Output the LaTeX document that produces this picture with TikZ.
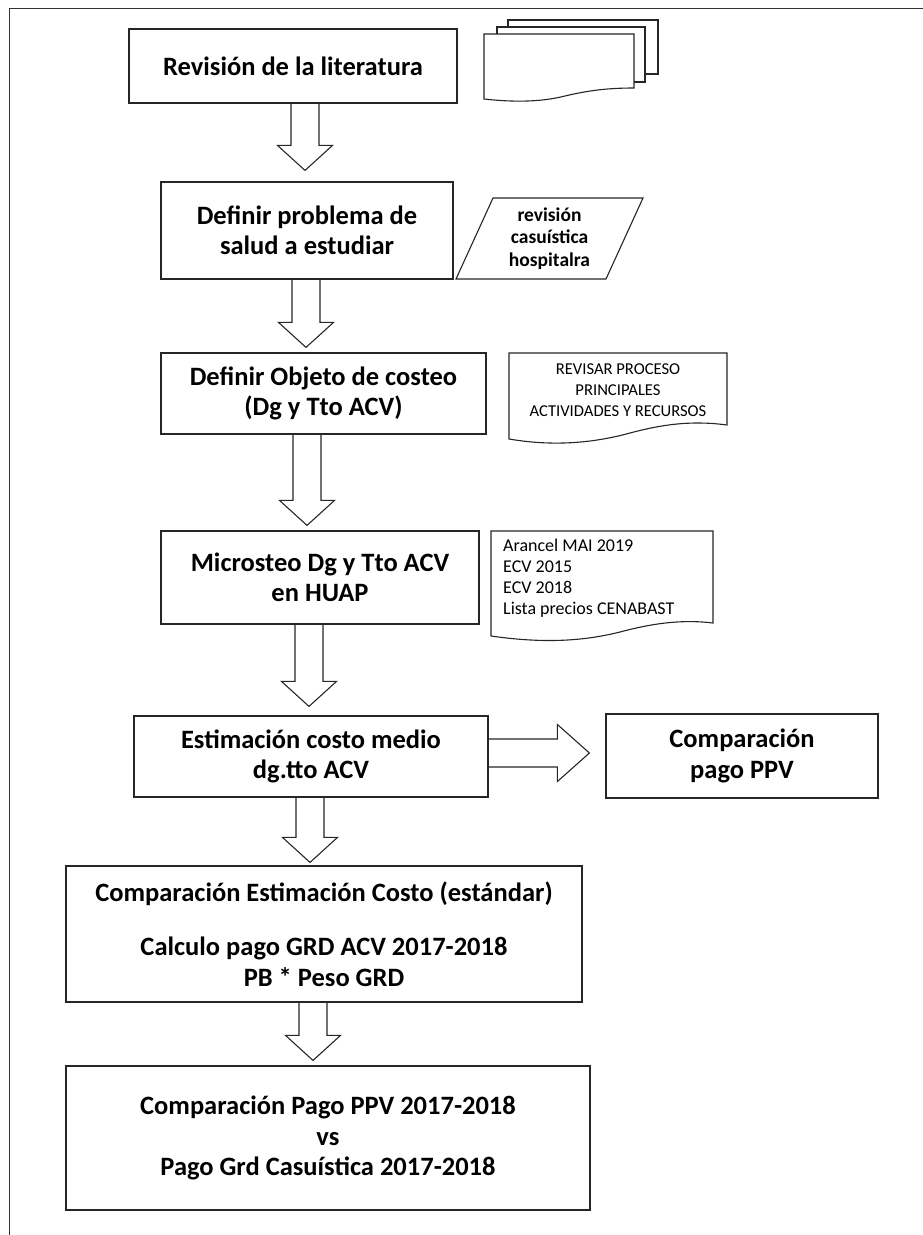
\documentclass[tikz,border=0pt]{standalone}
\usepackage{fontspec}
\setmainfont{Carlito}
\usetikzlibrary{calc}
\tikzset{
  box/.style={draw=black!85, line width=1.2pt, fill=white, align=center,
    font=\bfseries\fontsize{26.5}{30.5}\selectfont, inner sep=0pt},
  blockarrow/.style={draw=black!85, line width=1.1pt, line join=miter},
  shapeline/.style={draw=black!85, line width=1.1pt, fill=white},
  doctext/.style={font=\fontsize{16.6}{21}\selectfont, inner sep=0pt},
}
\newcommand{\blockdown}[4]{%
  \draw[blockarrow] let \p1=(#1.south), \p2=(#2.north) in
    ({#3-14},\y1) -- ({#3-14},{\y2+#4pt+25pt}) -- ({#3-27.5},{\y2+#4pt+25pt})
    -- (#3,{\y2+#4pt}) -- ({#3+27.5},{\y2+#4pt+25pt}) -- ({#3+14},{\y2+#4pt+25pt})
    -- ({#3+14},\y1);}
\begin{document}
\begin{tikzpicture}[x=1pt,y=-1pt]
\useasboundingbox (0,0) rectangle (923,1235);
\draw[line width=1pt, black!80] (9,1235) -- (9,8) -- (923,8);

% main boxes
\node[box, minimum width=328, minimum height=74] (b1) at (293,66) {Revisión de la literatura};
\node[box, minimum width=292, minimum height=97] (b2) at (307,230.5) {Definir problema de\\salud a estudiar};
\node[box, minimum width=325, minimum height=81] (b3) at (323.5,393.5) {Definir Objeto de costeo\\(Dg y Tto ACV)};
\node[box, minimum width=318, minimum height=93] (b4) at (320,577.5) {Microsteo Dg y Tto ACV\\en HUAP};
\node[box, minimum width=354, minimum height=81] (b5) at (311,756.5) {Estimación costo medio\\dg.tto ACV};
\node[box, minimum width=272, minimum height=84] (b6) at (742,756) {Comparación\\pago PPV};
\node[box, minimum width=516, minimum height=136] (b7) at (324,934) {Comparación Estimación Costo (estándar)\\[24pt]Calculo pago GRD ACV 2017-2018\\PB * Peso GRD};
\node[box, minimum width=524, minimum height=144] (b8) at (328,1138) {Comparación Pago PPV 2017-2018\\vs\\Pago Grd Casuística 2017-2018};

% multi-document
\draw[shapeline] (508,20) rectangle (658,74);
\draw[shapeline] (497,27) rectangle (645,82);
\draw[shapeline] (484,34) -- (634,34) -- (634,88) .. controls (610,88) and (590,90) .. (565,96)
  .. controls (545,101) and (520,103) .. (484,99) -- cycle;

% parallelogram (data)
\draw[shapeline] (493,198) -- (643,198) -- (606,279) -- (456,279) -- cycle;
\node[font=\bfseries\fontsize{19.5}{22.7}\selectfont, align=center, inner sep=0pt] (d2) at (549.5,238.5) {revisión\\casuística\\hospitalra};

% document 3
\draw[shapeline] (509,353) -- (727,353) -- (727,425) .. controls (690,420) and (660,425) .. (630,433)
  .. controls (590,444) and (550,446) .. (509,439) -- cycle;
\node[doctext, align=center] (d3) at (618,390) {REVISAR PROCESO\\PRINCIPALES\\ACTIVIDADES Y RECURSOS};

% document 4
\draw[shapeline] (491,531) -- (713,531) -- (713,623) .. controls (680,619) and (650,624) .. (620,632)
  .. controls (580,642) and (540,643) .. (491,636) -- cycle;
\node[doctext, font=\fontsize{18}{21}\selectfont, align=left, anchor=west] (d4) at (503,578) {Arancel MAI 2019\\ECV 2015\\ECV 2018\\Lista precios CENABAST};

% block arrows
\blockdown{b1}{b2}{305}{11}
\blockdown{b2}{b3}{306}{5}
\blockdown{b3}{b4}{307}{5}
\blockdown{b4}{b5}{309}{9}
\blockdown{b5}{b7}{310}{3}
\blockdown{b7}{b8}{313}{5}
\draw[blockarrow] let \p1=(b5.east), \p2=(b6.west) in
  (\x1,739) -- ({\x2-48pt},739) -- ({\x2-48pt},724.5) -- ({\x2-16pt},753)
  -- ({\x2-48pt},781.5) -- ({\x2-48pt},767) -- (\x1,767);
\end{tikzpicture}
\end{document}
